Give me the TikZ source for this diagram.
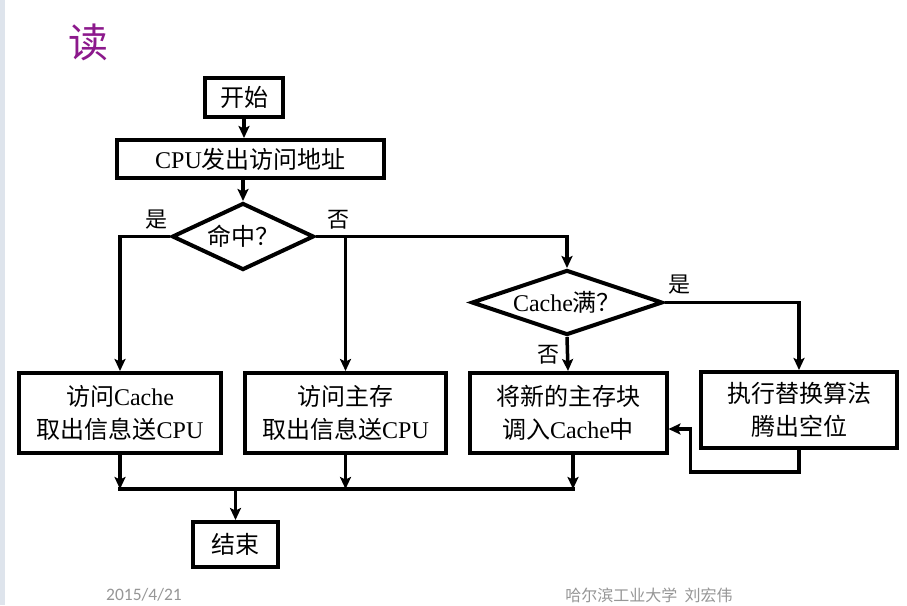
\documentclass[tikz,border=0pt]{standalone}
\usepackage{fontspec}
\setmainfont{Liberation Serif}
\newfontfamily\zh{Noto Sans CJK SC}
\newfontfamily\foot{Carlito}
\usetikzlibrary{shapes.geometric,arrows.meta,calc}
\newcommand{\z}[1]{{\zh #1}}
\definecolor{titlepurple}{RGB}{140,25,140}
\definecolor{footgray}{RGB}{150,150,150}
\definecolor{stripe}{RGB}{222,228,236}
\tikzset{
  box/.style={draw, line width=4pt, rectangle, align=center, inner sep=2pt,
              font=\fontsize{24}{33}\selectfont},
  diam/.style={draw, line width=4pt, diamond, inner sep=0pt},
  arr/.style={line width=3.5pt, -{Stealth[length=12pt,width=11pt,inset=2.5pt]}},
  ln/.style={line width=3.5pt},
  tag/.style={font=\zh\fontsize{22}{22}\selectfont, inner sep=0pt},
  dtext/.style={font=\fontsize{24}{24}\selectfont, inner sep=0pt}
}
\begin{document}
\begin{tikzpicture}[x=1pt,y=-1pt]
  % page
  \fill[white] (0,0) rectangle (907,605);
  \useasboundingbox (0,0) rectangle (907,605);
  \fill[stripe] (0,0) rectangle (5,605);

  % heading
  \node[text=titlepurple, font=\zh\fontsize{40}{40}\selectfont, inner sep=0pt] (title) at (88,42) {读};

  % boxes
  \node[box, minimum width=78pt, minimum height=39pt] (start) at (244,97.5) {\z{开始}};
  \node[box, minimum width=267pt, minimum height=38pt] (cpu) at (250.5,159) {CPU\z{发出访问地址}};
  \node[diam, minimum width=142pt, minimum height=67pt,
        label={[dtext]center:\z{命中？}}] (hit) at (243,236.5) {};
  \node[box, minimum width=202pt, minimum height=80pt] (b1) at (120,413) {\z{访问}Cache\\\z{取出信息送}CPU};
  \node[box, minimum width=201pt, minimum height=80pt] (mem) at (345.5,413) {\z{访问主存}\\\z{取出信息送}CPU};
  \node[diam, minimum width=191pt, minimum height=65pt,
        label={[dtext]center:Cache\z{满？}}] (full) at (567,302.5) {};
  \node[box, minimum width=197pt, minimum height=80pt] (load) at (568,413) {\z{将新的主存块}\\\z{调入}Cache\z{中}};
  \node[box, minimum width=196pt, minimum height=76pt] (rep) at (799,410) {\z{执行替换算法}\\\z{腾出空位}};
  \node[box, minimum width=85pt, minimum height=45pt] (end) at (235.5,544.5) {\z{结束}};

  % branch labels
  \node[tag] (yes1) at (156,220) {是};
  \node[tag] (no1) at (338,220) {否};
  \node[tag] (yes2) at (679,285) {是};
  \node[tag] (no2) at (548,355) {否};

  % flow
  \draw[arr] (start.south) -- (start.south |- cpu.north);
  \draw[arr] (hit.north |- cpu.south) -- (hit.north);
  \draw[arr] (hit.west) -| (b1.north);
  \draw[arr] (hit.east) -| (full.north);
  \coordinate (fork) at (mem.north |- hit.east);
  \draw[arr] (fork) -- (mem.north);
  \draw[arr] (full.east) -| (rep.north);
  \draw[arr] (full.south) -- (load.north);
  \draw[arr] (rep.south) -- ++(0,22) -| ([xshift=22pt,yshift=-16pt]load.east)
             -- ([yshift=-16pt]load.east);

  % merge into the end box
  \coordinate (m1) at ($(b1.south)+(0,34)$);
  \coordinate (m2) at (mem.south |- m1);
  \coordinate (m3) at ([xshift=5pt]load.south |- m1);
  \coordinate (m0) at (end.north |- m1);
  \draw[arr] (b1.south) -- (m1);
  \draw[arr] (mem.south) -- (m2);
  \draw[arr] ([xshift=5pt]load.south) -- (m3);
  \draw[ln, line cap=rect] (m1) -- (m3);
  \draw[arr] (m0) -- (end.north);

  % footer
  \node[text=footgray, font=\foot\fontsize{17.5}{17.5}\selectfont, inner sep=0pt] (date) at (144,595) {2015/4/21};
  \node[text=footgray, font=\zh\fontsize{16}{16}\selectfont, inner sep=0pt] (org) at (649,595) {哈尔滨工业大学\ \ 刘宏伟};
\end{tikzpicture}
\end{document}
